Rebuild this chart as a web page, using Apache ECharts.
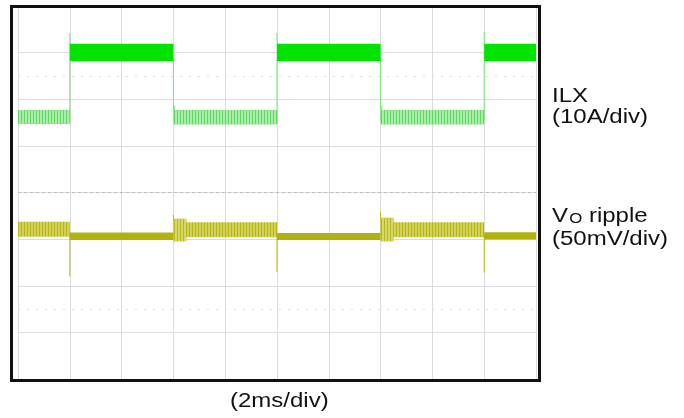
<!DOCTYPE html>
<html>
<head>
<meta charset="utf-8">
<script src="https://cdn.jsdelivr.net/npm/echarts@6/dist/echarts.min.js"></script>
<style>html,body{margin:0;padding:0;background:#fff;}#c{width:684px;height:418px;}</style>
</head>
<body>
<div id="c"></div>
<script>
// Time axis: ms (2 ms/div, 10 divs). Vertical axis: screen divisions (8 divs).
const xTicks = [0, 2, 4, 6, 8, 10, 12, 14, 16, 18, 20];
const yTicks = [0, 1, 2, 3, 4, 5, 6, 7, 8];

// ILX ripple envelope bands: [start ms, end ms, min div, max div]
const ilxHighStart = [2, 10, 18];
const ilxHighEnd   = [6, 14, 20];
const ilxHighMin   = [6.82, 6.82, 6.82];
const ilxHighMax   = [7.19, 7.19, 7.19];
const ilxLowStart  = [0, 6, 14];
const ilxLowEnd    = [2, 10, 18];
const ilxLowMin    = [5.47, 5.46, 5.46];
const ilxLowMax    = [5.77, 5.77, 5.77];
// ILX edges / spikes: [time ms, from div, to div]
const ilxEdgeT    = [2, 6, 10, 14, 18, 6.05, 14.05];
const ilxEdgeFrom = [5.5, 6.9, 5.5, 6.9, 5.5, 5.5, 5.5];
const ilxEdgeTo   = [7.42, 5.5, 7.42, 5.5, 7.45, 5.86, 5.88];

// VO ripple envelope bands
const voLightStart = [0, 6, 14];
const voLightEnd   = [2, 10, 18];
const voLightMin   = [3.05, 3.04, 3.04];
const voLightMax   = [3.37, 3.36, 3.36];
const voTransStart = [6, 14];
const voTransEnd   = [6.5, 14.5];
const voTransMin   = [2.95, 2.95];
const voTransMax   = [3.44, 3.46];
const voHeavyStart = [2, 10, 18];
const voHeavyEnd   = [6, 14, 20];
const voHeavyMin   = [2.98, 2.98, 2.99];
const voHeavyMax   = [3.14, 3.13, 3.15];
// VO spikes at load steps
const voSpikeT    = [2, 6, 10, 14, 18];
const voSpikeFrom = [3.1, 3.1, 3.1, 3.1, 3.1];
const voSpikeTo   = [2.2, 3.52, 2.3, 3.58, 2.28];

function zip4(a, b, c, d) { return a.map((v, i) => [v, b[i], c[i], d[i]]); }
function zip3(a, b, c) { return a.map((v, i) => [v, b[i], c[i]]); }

function stripes(bg, line, w) {
  const cv = document.createElement('canvas');
  cv.width = w; cv.height = 4;
  const ctx = cv.getContext('2d');
  ctx.fillStyle = bg; ctx.fillRect(0, 0, w, 4);
  ctx.fillStyle = line; ctx.fillRect(0, 0, 1, 4);
  return { image: cv, repeat: 'repeat' };
}

function bandRenderer(fill) {
  return function (params, api) {
    const p0 = api.coord([api.value(0), api.value(3)]);
    const p1 = api.coord([api.value(1), api.value(2)]);
    return {
      type: 'rect',
      shape: { x: p0[0], y: p0[1], width: p1[0] - p0[0], height: p1[1] - p0[1] },
      style: { fill: fill }
    };
  };
}
function lineRenderer(color, w) {
  return function (params, api) {
    const p0 = api.coord([api.value(0), api.value(1)]);
    const p1 = api.coord([api.value(0), api.value(2)]);
    return {
      type: 'line',
      shape: { x1: p0[0], y1: p0[1], x2: p1[0], y2: p1[1] },
      style: { stroke: color, lineWidth: w }
    };
  };
}

const chart = echarts.init(document.getElementById('c'), null, { renderer: 'canvas' });
const font = '"Liberation Sans", Arial, sans-serif';
chart.setOption({
  animation: false,
  grid: { left: 18, right: 148, top: 6, bottom: 39 },
  xAxis: {
    type: 'value', min: xTicks[0], max: xTicks[xTicks.length - 1], interval: 2,
    axisLine: { show: false }, axisTick: { show: false }, axisLabel: { show: false },
    splitLine: { show: true, lineStyle: { color: '#dcdcdc', width: 1 } }
  },
  yAxis: {
    type: 'value', min: yTicks[0], max: yTicks[yTicks.length - 1], interval: 1,
    axisLine: { show: false }, axisTick: { show: false }, axisLabel: { show: false },
    splitLine: { show: true, lineStyle: { color: '#dcdcdc', width: 1 } }
  },
  series: [
    {
      type: 'custom', renderItem: bandRenderer('#ffffff'), data: [], silent: true,
      markLine: {
        silent: true, symbol: 'none', label: { show: false },
        data: [
          { yAxis: 4, lineStyle: { color: '#bdbdbd', type: [3, 3], width: 1 } },
          { yAxis: 6.5, lineStyle: { color: '#dedede', type: [2, 7], width: 1 } },
          { yAxis: 1.5, lineStyle: { color: '#dedede', type: [2, 7], width: 1 } }
        ]
      }
    },
    { type: 'custom', renderItem: lineRenderer('#7be27b', 1), data: zip3(ilxEdgeT, ilxEdgeFrom, ilxEdgeTo), silent: true },
    { type: 'custom', renderItem: bandRenderer(stripes('#a8eea8', '#60d860', 3)), data: zip4(ilxLowStart, ilxLowEnd, ilxLowMin, ilxLowMax), silent: true },
    { type: 'custom', renderItem: bandRenderer('#00e400'), data: zip4(ilxHighStart, ilxHighEnd, ilxHighMin, ilxHighMax), silent: true },
    { type: 'custom', renderItem: lineRenderer('#bcbc10', 1), data: zip3(voSpikeT, voSpikeFrom, voSpikeTo), silent: true },
    { type: 'custom', renderItem: bandRenderer(stripes('#d2d258', '#b6b618', 3)), data: zip4(voLightStart, voLightEnd, voLightMin, voLightMax), silent: true },
    { type: 'custom', renderItem: bandRenderer(stripes('#d8d86a', '#b8b820', 3)), data: zip4(voTransStart, voTransEnd, voTransMin, voTransMax), silent: true },
    { type: 'custom', renderItem: bandRenderer('#b2b20e'), data: zip4(voHeavyStart, voHeavyEnd, voHeavyMin, voHeavyMax), silent: true }
  ],
  graphic: [
    { type: 'rect', silent: true, z: 100, shape: { x: 11.5, y: 6.5, width: 528, height: 374 }, style: { fill: 'none', stroke: '#111111', lineWidth: 3 } },
    { type: 'text', x: 552, y: 86, scaleX: 1.2, style: { text: 'ILX\n(10A/div)', font: '20px ' + font, fill: '#111', lineHeight: 21, verticalAlign: 'top' } },
    { type: 'text', x: 552, y: 203, scaleX: 1.2, style: {
        text: '{n|V}{s|O}{n| ripple}\n{n|(50mV/div)}',
        fill: '#111', lineHeight: 23, verticalAlign: 'top',
        rich: { n: { font: '20px ' + font, fill: '#111', lineHeight: 23, verticalAlign: 'bottom' },
                s: { font: '14px ' + font, fill: '#111', lineHeight: 23, verticalAlign: 'bottom', padding: [0, 0, 0, 1] } }
    } },
    { type: 'text', x: 230, y: 391, scaleX: 1.2, style: { text: '(2ms/div)', font: '20px ' + font, fill: '#111', verticalAlign: 'top' } }
  ]
});
</script>
</body>
</html>
